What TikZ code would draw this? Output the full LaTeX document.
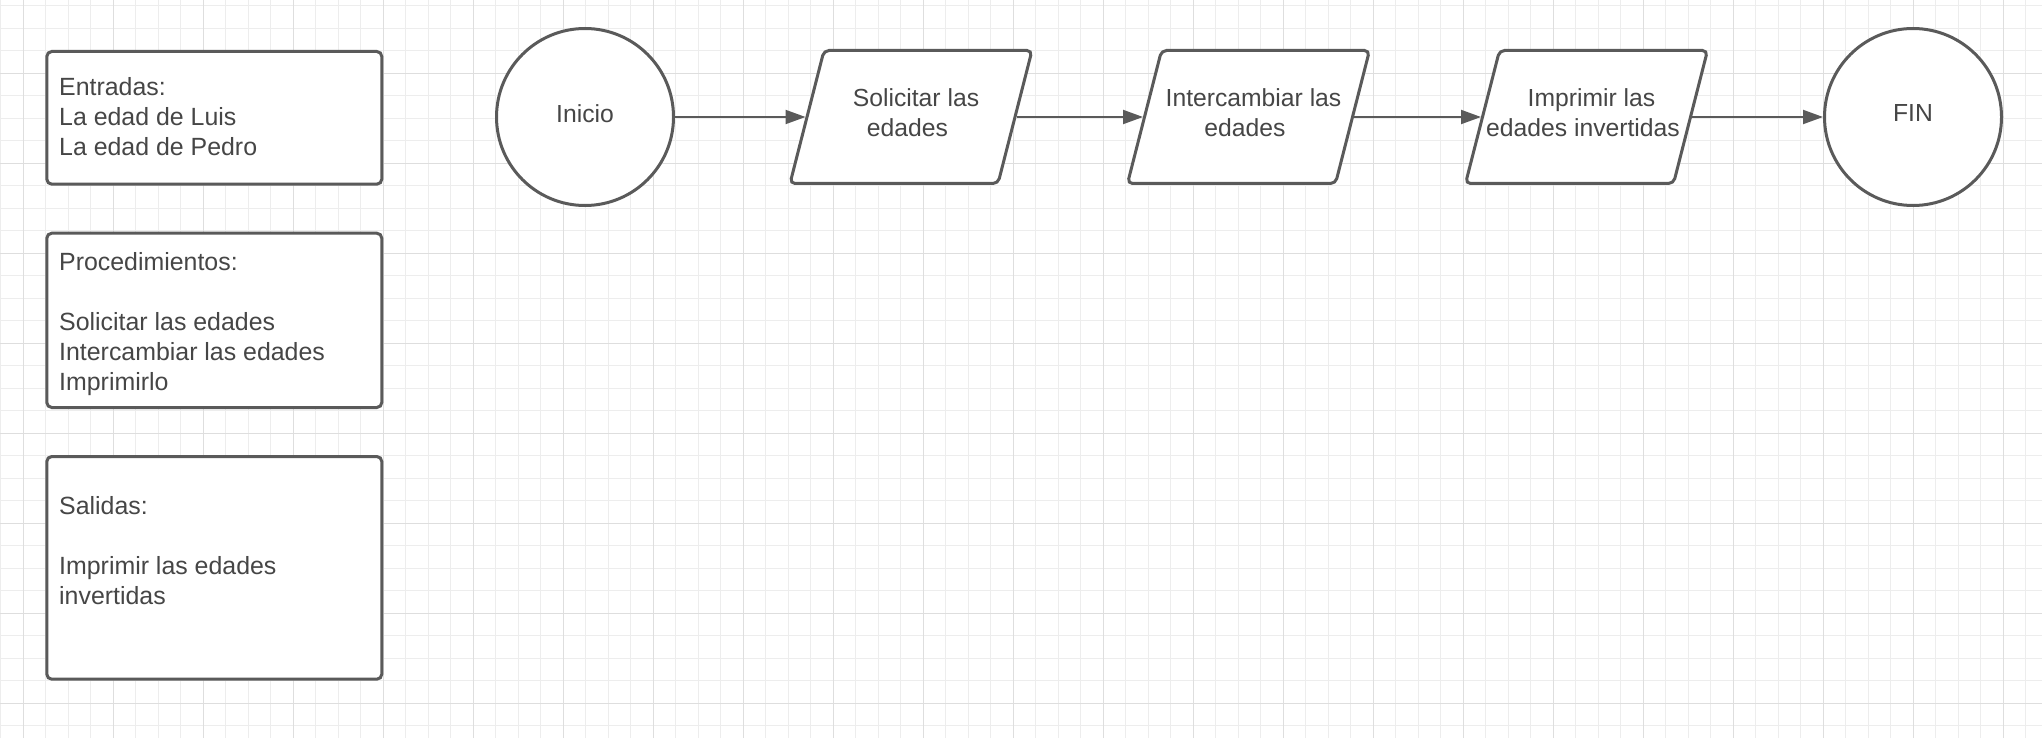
\documentclass[tikz,border=0pt]{standalone}
\usepackage{fontspec}
\setmainfont{Liberation Sans}
\usetikzlibrary{arrows.meta}
\definecolor{linec}{RGB}{90,90,90}
\definecolor{textc}{RGB}{70,70,70}
\definecolor{gridminor}{RGB}{237,237,237}
\definecolor{gridmajor}{RGB}{222,222,222}
\begin{document}
\begin{tikzpicture}[x=1pt,y=-1pt,
  minorgrid/.style={draw=gridminor, line width=1.2pt},
  majorgrid/.style={draw=gridmajor, line width=1.2pt},
  infobox/.style={draw=linec, line width=3pt, fill=white, rounded corners=5pt,
    minimum width=335pt, inner sep=0pt},
  boxtext/.style={anchor=north west, align=left, inner sep=0pt, text=textc,
    font=\fontsize{24.9}{30}\selectfont},
  ftext/.style={align=center, inner sep=0pt, text=textc,
    font=\fontsize{24.7}{30}\selectfont},
  term/.style={draw=linec, line width=3pt, fill=white, circle,
    minimum size=177pt, inner sep=0pt},
  io/.style={draw=linec, line width=3pt, fill=white, rectangle, xslant=0.2556,
    minimum width=208pt, minimum height=133pt, rounded corners=5pt, inner sep=0pt},
  flow/.style={draw=linec, line width=2pt, -{Triangle[length=20pt,width=14pt]}}
]
\fill[white] (0,0) rectangle (2042,738);
\useasboundingbox (0,0) rectangle (2042,738);
% grid
\foreach \i in {0,...,90} { \draw[minorgrid] ({0.8+22.5*\i},0) -- ({0.8+22.5*\i},738); }
\foreach \j in {0,...,32} { \draw[minorgrid] (0,{5.8+22.5*\j}) -- (2042,{5.8+22.5*\j}); }
\foreach \i in {0,...,22} { \draw[majorgrid] ({23.3+90*\i},0) -- ({23.3+90*\i},738); }
\foreach \j in {0,...,7} { \draw[majorgrid] (0,{73.3+90*\j}) -- (2042,{73.3+90*\j}); }

% info boxes
\node[infobox, minimum height=132.7pt] (inbox) at (214.3,117.85) {};
\node[infobox, minimum height=174.3pt] (procbox) at (214.3,320.35) {};
\node[infobox, minimum height=222.7pt] (outbox) at (214.3,567.85) {};
\node[boxtext] (intext) at (59,77.3) {Entradas:\\La edad de Luis\\La edad de Pedro};
\node[boxtext] (proctext) at (59,252.6) {Procedimientos:\\[30pt]Solicitar las edades\\Intercambiar las edades\\Imprimirlo};
\node[boxtext] (outtext) at (59,496.7) {Salidas:\\[30pt]Imprimir las edades\\invertidas};

% flow shapes
\node[term] (start) at (585,117) {};
\node[io] (ask) at (911,117) {};
\node[io] (swap) at (1248.5,117) {};
\node[io] (print) at (1586.5,117) {};
\node[term] (end) at (1913,117) {};

\node[ftext] (starttext) at ([yshift=3.8pt]start.center) {Inicio};
\node[ftext] (asktext) at ([xshift=-3.5pt,yshift=4.5pt]ask.center) {\hspace*{17pt}Solicitar las\\edades};
\node[ftext] (swaptext) at ([xshift=-3.5pt,yshift=4.5pt]swap.center) {\hspace*{17pt}Intercambiar las\\edades};
\node[ftext] (printtext) at ([xshift=-3.5pt,yshift=4.5pt]print.center) {\hspace*{17pt}Imprimir las\\edades invertidas};
\node[ftext] (endtext) at ([yshift=4.2pt]end.center) {FIN};

% connectors
\draw[flow] (start) -- (ask);
\draw[flow] (ask) -- (swap);
\draw[flow] (swap) -- (print);
\draw[flow] (print) -- (end);
\end{tikzpicture}
\end{document}
